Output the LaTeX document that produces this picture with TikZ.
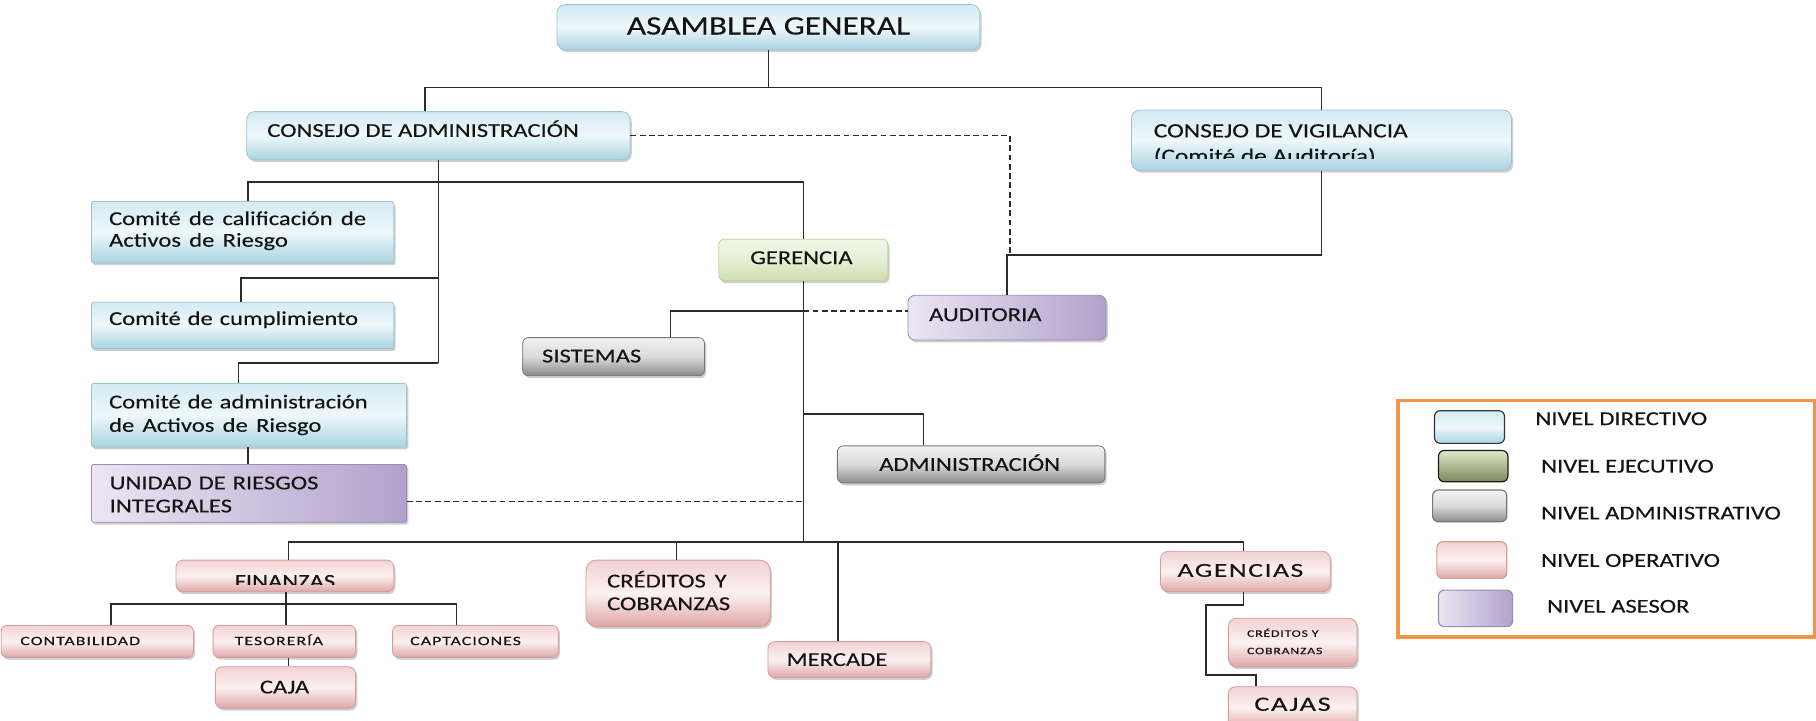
\documentclass[tikz,border=0pt]{standalone}
\usepackage{fontspec}
\setmainfont{Carlito}[FakeStretch=1.25,FakeBold=0.25]
\newfontfamily\widefont{Carlito}[FakeStretch=1.4,LetterSpace=8,FakeBold=0.25]
\usetikzlibrary{shadows}
\newcommand\wsp[1]{\spaceskip=#1em\relax}
\definecolor{txt}{HTML}{141414}
\definecolor{conn}{HTML}{2B2B2B}
\definecolor{dirT}{HTML}{D3EBF2}
\definecolor{dirM}{HTML}{EEF8FB}
\definecolor{dirB}{HTML}{A9D4E1}
\definecolor{dirD}{HTML}{9FC4D1}
\definecolor{opT}{HTML}{F2D2D2}
\definecolor{opM}{HTML}{FCF1F1}
\definecolor{opB}{HTML}{DFA6A6}
\definecolor{opD}{HTML}{D49C9C}
\definecolor{grT}{HTML}{F2F2F2}
\definecolor{grM}{HTML}{DADADA}
\definecolor{grB}{HTML}{8A8A8A}
\definecolor{grD}{HTML}{777777}
\definecolor{geT}{HTML}{F1F6E6}
\definecolor{geM}{HTML}{E7F0D6}
\definecolor{geB}{HTML}{CDDDAB}
\definecolor{geD}{HTML}{BFD29A}
\definecolor{puL}{HTML}{ECE6F3}
\definecolor{puR}{HTML}{B3A1CC}
\definecolor{puD}{HTML}{9C8AB7}
\definecolor{exT}{HTML}{DFE8C8}
\definecolor{exB}{HTML}{7B8A5A}
\definecolor{lgor}{RGB}{240,150,70}
\begin{document}
\begin{tikzpicture}[x=1pt,y=-1pt,
  base/.style={rectangle, inner sep=0pt, line width=0.7pt,
    drop shadow={shadow xshift=1.5pt, shadow yshift=-2pt, opacity=0.35, fill=black!55}},
  dir/.style={base, draw=dirD, top color=dirT, bottom color=dirB, middle color=dirM, rounded corners=7pt},
  com/.style={dir, rounded corners=1.5pt},
  ope/.style={base, draw=opD, top color=opT, bottom color=opB, middle color=opM, rounded corners=7pt},
  adml/.style={base, draw=grD, top color=grT, bottom color=grB, middle color=grM, rounded corners=5pt},
  exe/.style={base, draw=geD, top color=geT, bottom color=geB, middle color=geM, rounded corners=5pt},
  ase/.style={base, draw=puD, left color=puL, right color=puR, rounded corners=6pt},
  tx/.style={inner sep=0pt, anchor=base west, text=txt, font=\fontsize{17}{20}\selectfont},
  txc/.style={tx, anchor=base},
  smalltx/.style={tx, font=\widefont\fontsize{11}{13}\selectfont},
  line/.style={draw=conn, line width=1.3pt},
  dline/.style={draw=conn, line width=1.3pt, dash pattern=on 5pt off 3pt},
  swatch/.style={rectangle, inner sep=0pt, line width=1pt, rounded corners=5pt}
]
\useasboundingbox (0,0) rectangle (1568,622);
\fill[white] (0,0) rectangle (1568,622);

% ---------- boxes ----------
\node[dir, minimum width=365pt, minimum height=39pt] (asam) at (663.5,23.5) {};
\node[dir, minimum width=331pt, minimum height=41.6pt] (ca) at (378.5,117.2) {};
\node[dir, minimum width=328pt, minimum height=52pt] (cv) at (1141,121) {};
\node[com, minimum width=261pt, minimum height=53pt] (c1) at (209.5,200.5) {};
\node[com, minimum width=261pt, minimum height=40pt] (c2) at (209.5,281) {};
\node[com, minimum width=272pt, minimum height=55pt] (c3) at (215,358.5) {};
\node[ase, rounded corners=1.5pt, minimum width=272pt, minimum height=50pt] (uri) at (215,426) {};
\node[exe, minimum width=146pt, minimum height=36pt] (ger) at (693.6,224.5) {};
\node[adml, minimum width=157pt, minimum height=33pt] (sis) at (529.8,308) {};
\node[ase, minimum width=171pt, minimum height=38.6pt] (aud) at (869.5,274.3) {};
\node[adml, minimum width=231pt, minimum height=32pt] (adm) at (838.5,401) {};
\node[ope, rounded corners=6pt, minimum width=188pt, minimum height=27.4pt] (fin) at (246,497.3) {};
\node[ope, rounded corners=9pt, minimum width=159pt, minimum height=57.4pt] (cyc) at (585.5,512.3) {};
\node[ope, rounded corners=6pt, minimum width=140.7pt, minimum height=31pt] (mer) at (733.4,569.5) {};
\node[ope, rounded corners=7pt, minimum width=146.6pt, minimum height=35pt] (age) at (1075.3,493.5) {};
\node[ope, rounded corners=5pt, minimum width=166pt, minimum height=27.6pt] (cont) at (84,553.8) {};
\node[ope, rounded corners=5pt, minimum width=123pt, minimum height=27.6pt] (tes) at (245.5,553.8) {};
\node[ope, rounded corners=5pt, minimum width=143pt, minimum height=27.6pt] (cap) at (410.5,553.8) {};
\node[ope, rounded corners=6pt, minimum width=121pt, minimum height=35.8pt] (caja) at (246.5,593.6) {};
\node[ope, rounded corners=7pt, minimum width=111pt, minimum height=42pt] (acyc) at (1116.1,554.8) {};
\node[ope, rounded corners=6pt, minimum width=111pt, minimum height=36pt] (cajas) at (1116.1,611) {};

% ---------- texts ----------
\node[txc, font=\fontsize{23}{26}\selectfont] (asam-t) at (663.5,29.8) {ASAMBLEA GENERAL};
\node[tx] (ca-t) at (230.6,118.2) {CONSEJO DE ADMINISTRACIÓN};
\node[tx, font=\fontsize{17.5}{20}\selectfont] (cv-t1) at (996,118.6) {CONSEJO DE VIGILANCIA};
\begin{scope}
  \clip (977,95) rectangle (1305,136.5);
  \node[tx, font=\fontsize{17.5}{20}\selectfont] (cv-t2) at (996,140.5) {(Comité de Auditoría)};
\end{scope}
\node[tx] (c1-t1) at (94,194.3) {\wsp{0.42}Comité de calificación de};
\node[tx] (c1-t2) at (94,213) {\wsp{0.42}Activos de Riesgo};
\node[tx] (c2-t) at (94,280.6) {\wsp{0.35}Comité de cumplimiento};
\node[tx] (c3-t1) at (94,352.6) {\wsp{0.35}Comité de administración};
\node[tx] (c3-t2) at (94,372.8) {\wsp{0.42}de Activos de Riesgo};
\node[tx] (uri-t1) at (94.5,422.5) {\wsp{0.35}UNIDAD DE RIESGOS};
\node[tx] (uri-t2) at (94.5,442.4) {INTEGRALES};
\node[txc] (ger-t) at (692,228) {GERENCIA};
\node[tx] (sis-t) at (467.8,312.9) {SISTEMAS};
\node[tx] (aud-t) at (802,277.2) {AUDITORIA};
\node[tx] (adm-t) at (759,406.5) {ADMINISTRACIÓN};
\begin{scope}
  \clip (152,483) rectangle (340,504.3);
  \node[txc] (fin-t) at (246,507.5) {FINANZAS};
\end{scope}
\node[tx] (cyc-t1) at (524,507.2) {\wsp{0.45}CRÉDITOS Y};
\node[tx] (cyc-t2) at (524,526.8) {COBRANZAS};
\node[tx] (mer-t) at (679,575) {MERCADE};
\node[txc, font=\widefont\fontsize{17}{20}\selectfont] (age-t) at (1071,498) {AGENCIAS};
\node[smalltx] (cont-t) at (17.4,557) {CONTABILIDAD};
\node[smalltx] (tes-t) at (202.5,557) {TESORERÍA};
\node[smalltx] (cap-t) at (354,557) {CAPTACIONES};
\node[txc] (caja-t) at (245.7,598.7) {CAJA};
\node[tx, font=\widefont\fontsize{8.5}{10}\selectfont] (acyc-t1) at (1076.6,549.8) {CRÉDITOS Y};
\node[tx, font=\widefont\fontsize{8.5}{10}\selectfont] (acyc-t2) at (1076.6,564.8) {COBRANZAS};
\node[txc, font=\widefont\fontsize{17.5}{20}\selectfont] (cajas-t) at (1116,613.7) {CAJAS};

% ---------- connectors ----------
\coordinate (j1) at (366.8,75.4);
\draw[line] (asam.south) -- (asam.south |- j1);
\draw[line] (ca.north -| j1) -- (j1) -- (j1 -| cv.north) -- (cv.north);

\coordinate (jd) at (872,220);
\draw[dline] (ca.east) -| (jd);
\draw[line] (cv.south) |- (aud.north |- jd) -- (aud.north);

\coordinate (jtop) at (378.5,157);
\coordinate (jc2) at (378.5,240);
\coordinate (jc3) at (378.5,313.6);
\draw[line] (ca.south) -- (jc3);
\draw[line] ([xshift=4.5pt]c1.north) |- (jtop) -| (ger.north);
\draw[line] ([xshift=-1.5pt]c2.north) |- (jc2);
\draw[line] ([xshift=-9pt]c3.north) |- (jc3);
\draw[line] ([xshift=-1pt]c3.south) -- ([xshift=-1pt]uri.north);

\coordinate (jbus) at (693.6,467.8);
\coordinate (uriD) at ([yshift=-7pt]uri.east);
\draw[dline] (uriD) -- (uriD -| jbus);
\draw[line] (ger.south) -- (jbus);

\coordinate (js) at (693.6,268.6);
\draw[line] (js) -| ([xshift=49pt]sis.north);
\draw[dline] (js) -- (js -| aud.west);
\coordinate (ja) at (693.6,357.5);
\draw[line] (ja) -| ([xshift=-41pt]adm.north);

\draw[line] ([xshift=3pt]fin.north) |- (jbus) -| ([xshift=-1.7pt]age.north);
\coordinate (cycT) at ([xshift=-1.5pt]cyc.north);
\draw[line] (cycT) -- (cycT |- jbus);
\coordinate (merT) at ([xshift=-10pt]mer.north);
\draw[line] (merT) -- (merT |- jbus);

\coordinate (jf) at (247,521.6);
\draw[line] ([xshift=1pt]fin.south) -- ([xshift=1.5pt]tes.north);
\draw[line] ([xshift=12pt]cont.north) |- (jf) -| ([xshift=-16.5pt]cap.north);
\draw[line] ([xshift=3.5pt]tes.south) -- ([xshift=2.5pt]caja.north);

\coordinate (ag1) at (1041.5,522.5);
\coordinate (ag2) at (1041.5,583);
\draw[line] ([xshift=-1.7pt]age.south) |- (ag1) -- (ag2) -| ([xshift=-31.5pt]cajas.north);

% ---------- legend ----------
\node[draw=lgor, line width=3pt, minimum width=360pt, minimum height=204pt, inner sep=0pt] (lg) at (1387.2,448) {};
\node[swatch, draw=black!80, top color=dirT, bottom color=dirB, middle color=dirM, minimum width=60.5pt, minimum height=28.2pt] (sw1) at (1268.8,368.7) {};
\node[swatch, draw=black!90, top color=exT, bottom color=exB, minimum width=60pt, minimum height=27pt] (sw2) at (1272,402.5) {};
\node[swatch, draw=grD, top color=grT, bottom color=grB, middle color=grM, minimum width=64pt, minimum height=27.5pt] (sw3) at (1269,436.8) {};
\node[swatch, draw=opD, top color=opT, bottom color=opB, middle color=opM, minimum width=60.4pt, minimum height=31.6pt] (sw4) at (1270.8,483.6) {};
\node[swatch, draw=puD, left color=puL, right color=puR, minimum width=64pt, minimum height=31.5pt] (sw5) at (1274,525.3) {};
\node[tx] (lt1) at (1325.5,367) {NIVEL DIRECTIVO};
\node[tx] (lt2) at (1330.5,408) {NIVEL EJECUTIVO};
\node[tx] (lt3) at (1330.5,448.5) {NIVEL ADMINISTRATIVO};
\node[tx] (lt4) at (1330.5,489.4) {NIVEL OPERATIVO};
\node[tx] (lt5) at (1335.7,529) {NIVEL ASESOR};
\end{tikzpicture}
\end{document}
